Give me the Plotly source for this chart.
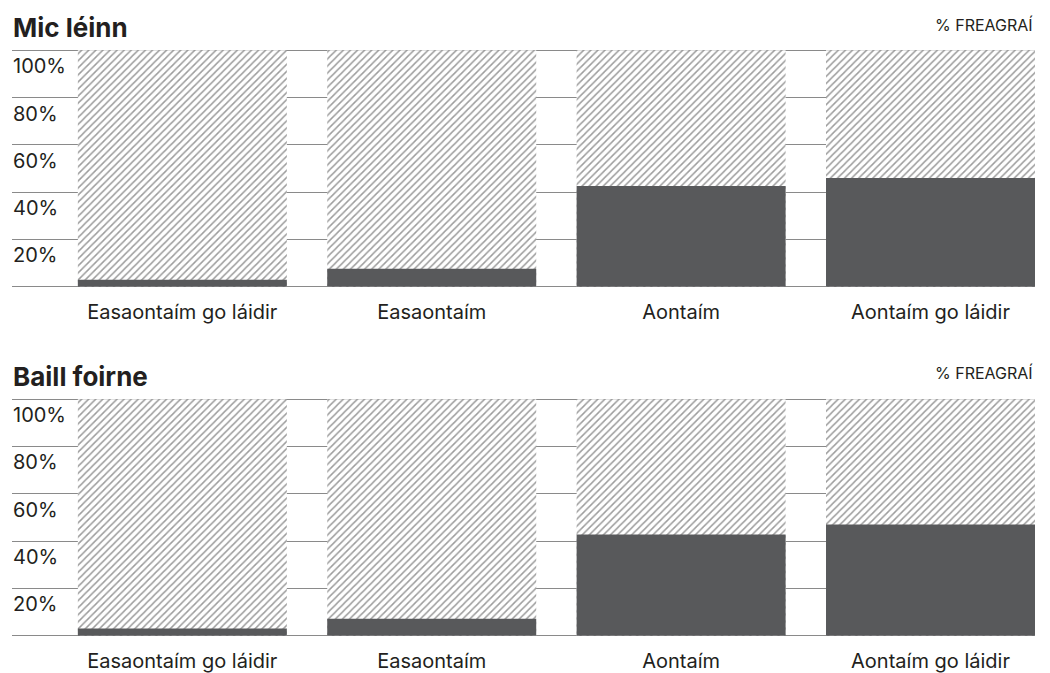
import plotly.graph_objects as go

categories = ["Easaontaím go láidir", "Easaontaím", "Aontaím", "Aontaím go láidir"]
panel_titles = ["Mic léinn", "Baill foirne"]
students = [3, 7.6, 42.6, 46]
staff = [3, 7.2, 42.8, 47]
full_scale = [100, 100, 100, 100]
y_ticks = [20, 40, 60, 80, 100]
y_tick_text = ["20%", "40%", "60%", "80%", "100%"]
unit_label = "% FREAGRAÍ"

BAR = "#58595b"
GRID = "#8a8a8a"
TEXT = "#231f20"
FONT = "Inter"

fig = go.Figure()
series = [students, staff]
axes = [("x", "y"), ("x2", "y2")]
for vals, (xa, ya) in zip(series, axes):
    fig.add_trace(go.Bar(
        x=categories, y=full_scale, xaxis=xa, yaxis=ya,
        marker=dict(color="white", line=dict(width=0),
                    pattern=dict(shape="/", fgcolor="#3a3a3a", bgcolor="white",
                                 size=5, solidity=0.3)),
        hoverinfo="skip", showlegend=False))
    fig.add_trace(go.Bar(
        x=categories, y=vals, xaxis=xa, yaxis=ya,
        marker=dict(color=BAR, line=dict(width=0)),
        showlegend=False))

xdom = [12 / 1050, 1035 / 1050]
ydoms = [[1 - 289.2 / 673, 1 - 49.3 / 673], [1 - 639.7 / 673, 1 - 399.8 / 673]]

common_x = dict(domain=xdom, range=[-0.683, 3.419], showgrid=False, zeroline=False,
                showline=False, ticks="", tickfont=dict(family=FONT, size=20, color=TEXT),
                ticklabelstandoff=10, fixedrange=True)
common_y = dict(range=[-0.5, 100.5], tickvals=y_ticks, ticktext=y_tick_text,
                showgrid=True, gridcolor=GRID, gridwidth=1.2, zeroline=True,
                zerolinecolor=GRID, zerolinewidth=1.2, showline=False, ticks="",
                ticklabelposition="inside", ticklabelshift=16, ticklabelstandoff=-2,
                ticklabeloverflow="allow",
                tickfont=dict(family=FONT, size=20, color=TEXT), fixedrange=True)

fig.update_layout(
    width=1050, height=673,
    margin=dict(l=0, r=0, t=0, b=0),
    paper_bgcolor="white", plot_bgcolor="white",
    barmode="overlay", bargap=0.162,
    xaxis=dict(common_x, anchor="y"),
    yaxis=dict(common_y, domain=ydoms[0], anchor="x"),
    xaxis2=dict(common_x, anchor="y2"),
    yaxis2=dict(common_y, domain=ydoms[1], anchor="x2"),
)

title_y = [1 - 28 / 673, 1 - 378 / 673]
for t, ty in zip(panel_titles, title_y):
    fig.add_annotation(text="<b>" + t + "</b>", x=xdom[0] - 1 / 1050, y=ty, xref="paper", yref="paper",
                       xanchor="left", yanchor="middle", showarrow=False,
                       font=dict(family=FONT, size=26, color=TEXT))
    fig.add_annotation(text=unit_label, x=xdom[1], y=ty + 3 / 673, xref="paper", yref="paper",
                       xanchor="right", yanchor="middle", showarrow=False,
                       font=dict(family=FONT, size=16, color=TEXT))

fig.write_html("out.html")
